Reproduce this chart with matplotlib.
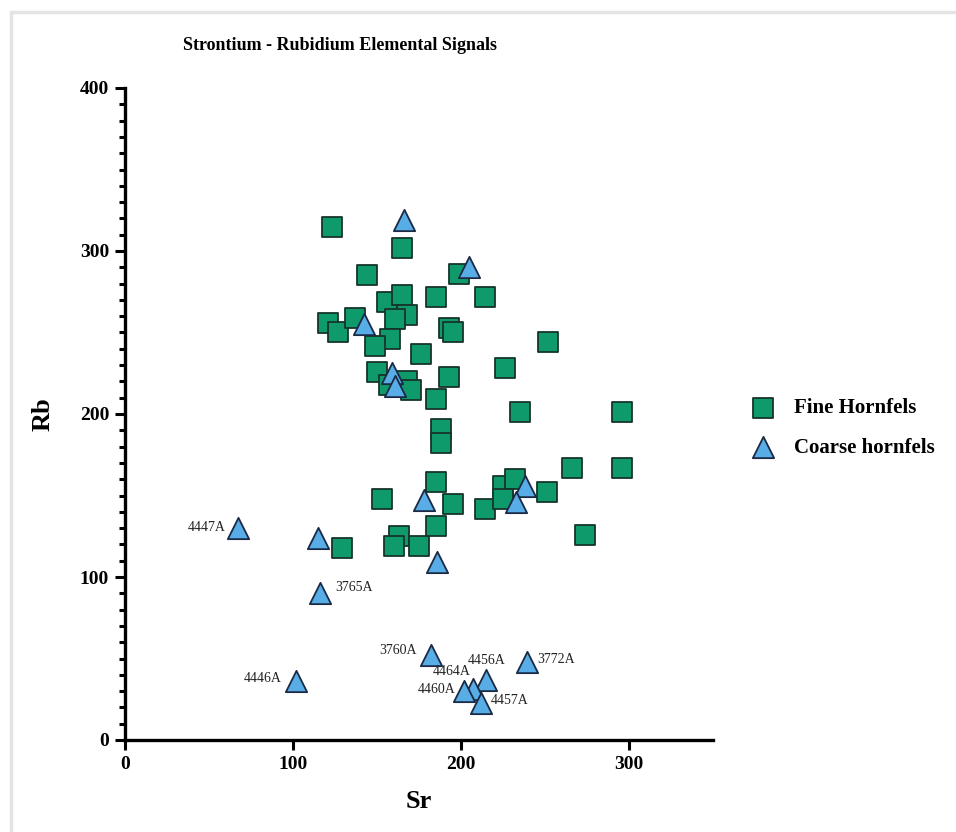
import matplotlib.pyplot as plt
from matplotlib.patches import Rectangle
from matplotlib.ticker import MultipleLocator

plt.rcParams['font.family'] = ['Liberation Serif', 'DejaVu Serif']

# Fine hornfels (squares)
fine_sr = [123, 165, 144, 199, 156, 165, 185, 214, 121, 127, 137, 168, 161,
           193, 195, 158, 149, 176, 252, 150, 157, 168, 170, 193, 185, 226,
           235, 296, 188, 188, 185, 153, 195, 214, 266, 296, 251, 274, 129,
           163, 160, 175, 185, 225, 232, 225]
fine_rb = [315, 302, 285, 286, 269, 273, 272, 272, 256, 250, 259, 261, 258,
           253, 250, 246, 242, 237, 244, 226, 218, 220, 215, 223, 209, 228,
           201, 201, 191, 182, 158, 148, 145, 142, 167, 167, 152, 126, 118,
           125, 119, 119, 131, 156, 160, 148]

# Coarse hornfels (triangles)
coarse_sr = [166, 205, 142, 159, 161, 178, 115, 186, 116, 67, 102, 182, 239,
             215, 207, 202, 212, 238, 233]
coarse_rb = [319, 290, 255, 225, 217, 147, 124, 109, 90, 130, 36, 52, 48,
             37, 31, 30, 23, 156, 146]
coarse_labels = ['', '', '', '', '', '', '', '', '3765A', '4447A', '4446A',
                 '3760A', '3772A', '4456A', '4464A', '4460A', '4457A', '', '']

# label placement (pixel offsets from marker, horizontal alignment)
label_pos = {
    '4447A': (-12, 1, 'right'),
    '3765A': (15, 6, 'left'),
    '4446A': (-15, 3, 'right'),
    '3760A': (-14, 5, 'right'),
    '3772A': (11, 2, 'left'),
    '4456A': (0, 19, 'center'),
    '4464A': (-2, 18, 'right'),
    '4460A': (-9, 2, 'right'),
    '4457A': (10, 2, 'left'),
}

fig = plt.figure(figsize=(9.56, 8.32), dpi=100)
fig.patches.append(Rectangle((0.012, -0.01), 1.0, 0.996, transform=fig.transFigure,
                             fill=False, edgecolor='#e4e4e4', linewidth=2.5))
ax = fig.add_axes([125 / 956, 1 - 740 / 832, 588 / 956, 652 / 832])

ax.scatter(fine_sr, fine_rb, marker='s', s=210, c='#0f9a6c', edgecolors='#17352a',
           linewidths=1.3, zorder=3, label='Fine Hornfels')
ax.scatter(coarse_sr, coarse_rb, marker='^', s=235, c='#58ade6', edgecolors='#1a2a45',
           linewidths=1.3, zorder=4, label='Coarse hornfels')

for sr, rb, lab in zip(coarse_sr, coarse_rb, coarse_labels):
    if not lab:
        continue
    dx, dy, ha = label_pos[lab]
    ax.annotate(lab, (sr, rb), xytext=(dx, dy), textcoords='offset pixels',
                ha=ha, va='center', fontsize=10, color='#222222', zorder=5)

ax.set_xlim(0, 350)
ax.set_ylim(0, 400)
ax.xaxis.set_major_locator(MultipleLocator(100))
ax.yaxis.set_major_locator(MultipleLocator(100))
ax.yaxis.set_minor_locator(MultipleLocator(10))

for side in ['top', 'right']:
    ax.spines[side].set_visible(False)
for side in ['left', 'bottom']:
    ax.spines[side].set_linewidth(2.4)
ax.tick_params(which='major', direction='out', length=7.5, width=2.2, labelsize=14, pad=4)
ax.tick_params(which='minor', direction='out', length=4.5, width=2.2)
for t in ax.get_xticklabels() + ax.get_yticklabels():
    t.set_fontweight('bold')

ax.set_xlabel('Sr', fontsize=19, fontweight='bold', labelpad=12)
ax.set_ylabel('Rb', fontsize=19, fontweight='bold', labelpad=18)

fig.text(340 / 956, 1 - 45 / 832, 'Strontium - Rubidium Elemental Signals',
         ha='center', va='center', fontsize=13, fontweight='bold')

ax.legend(loc='center left', bbox_to_anchor=(723 / 956, 1 - 428 / 832),
          bbox_transform=fig.transFigure, frameon=False,
          prop={'weight': 'bold', 'size': 15}, handletextpad=0.5,
          labelspacing=0.95, scatterpoints=1)

fig.savefig('out.png', dpi=100)
